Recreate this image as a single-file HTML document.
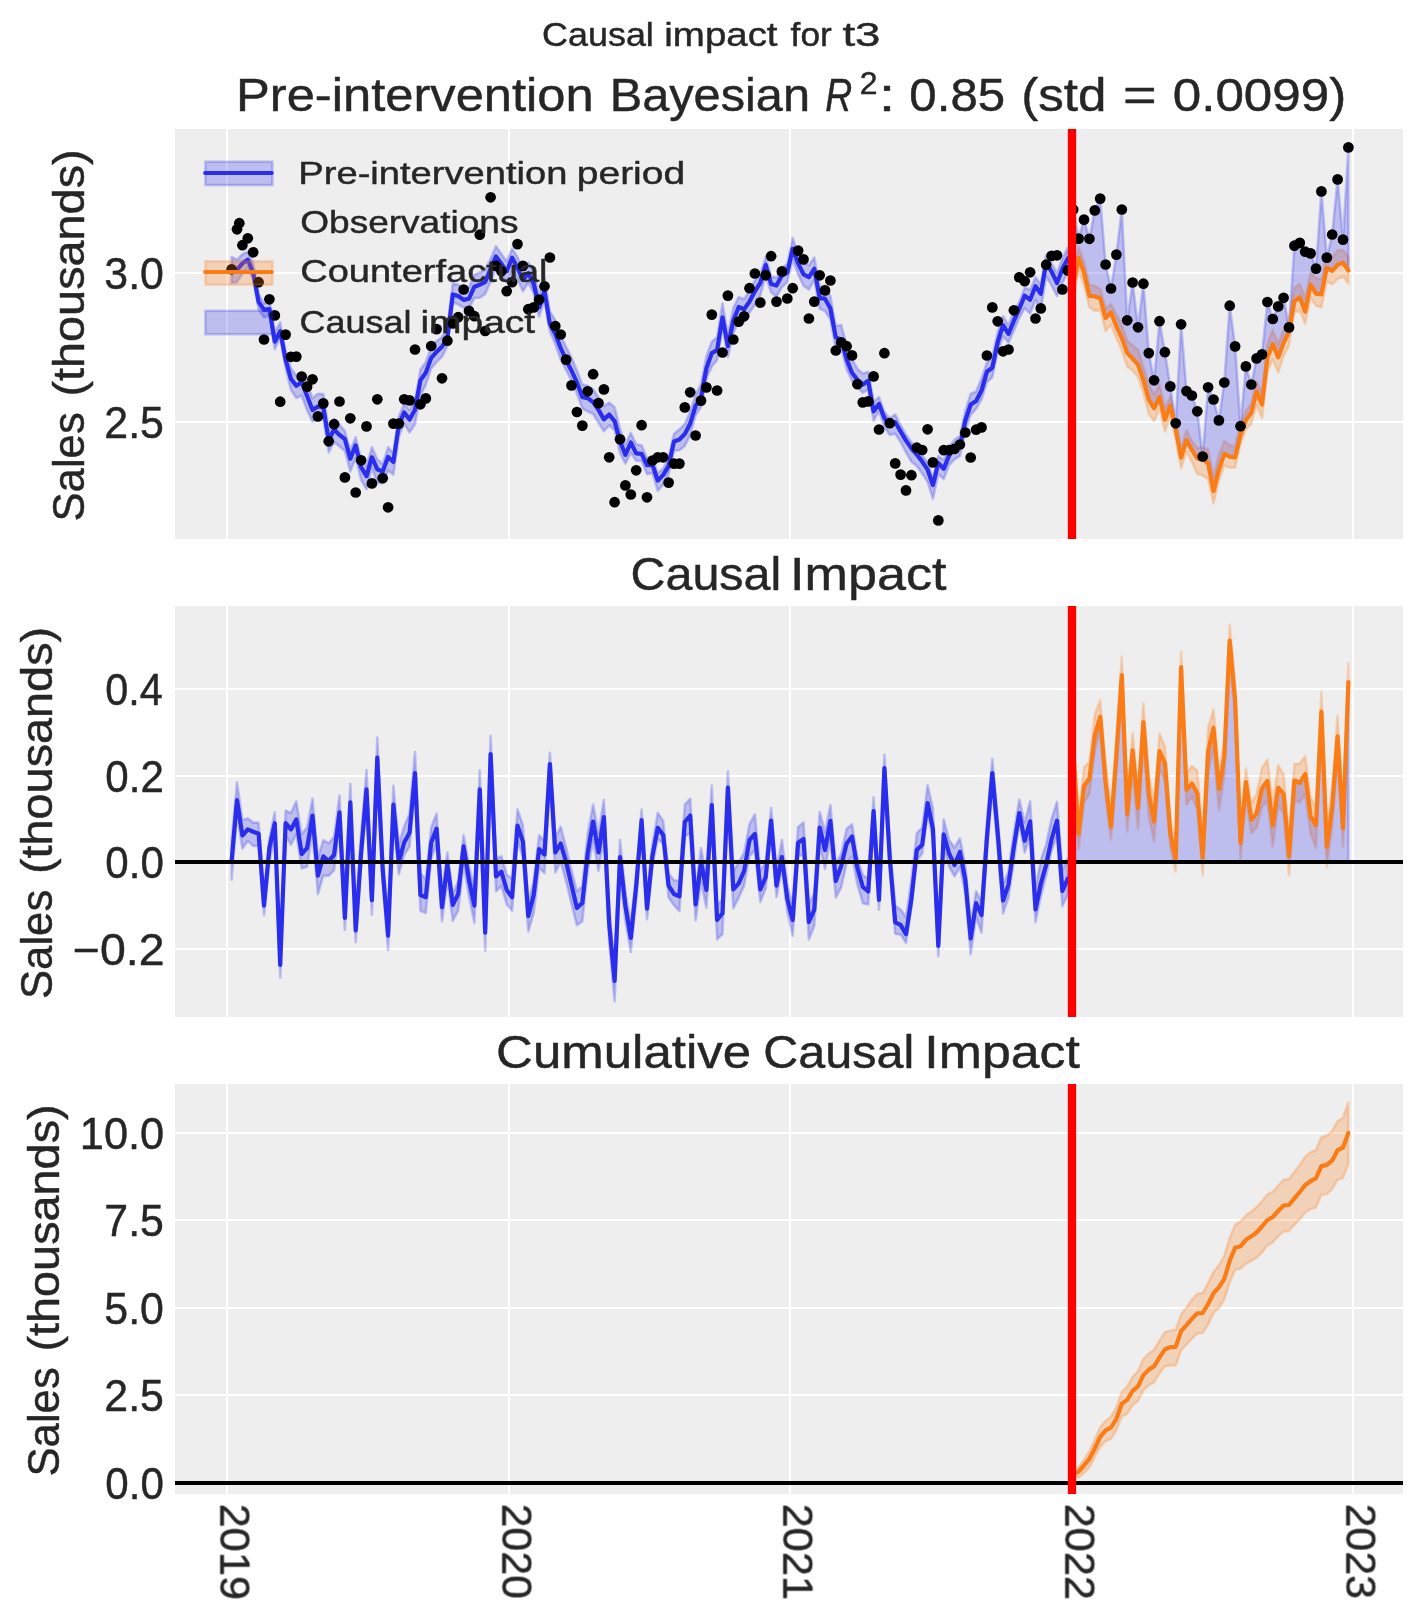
<!DOCTYPE html>
<html><head><meta charset="utf-8"><title>Causal impact for t3</title>
<style>html,body{margin:0;padding:0;background:#fff}svg{display:block}</style></head>
<body>
<svg width="1423" height="1623" viewBox="0 0 1423 1623" font-family="Liberation Sans, sans-serif" fill="#262626" style="will-change:transform">
<rect width="1423" height="1623" fill="#fff"/>
<defs><filter id="gs" x="-5%" y="-5%" width="110%" height="110%"><feOffset dx="0" dy="0"/></filter>
<clipPath id="c1"><rect x="175" y="129" width="1228" height="410"/></clipPath>
<clipPath id="c2"><rect x="175" y="606" width="1228" height="411"/></clipPath>
<clipPath id="c3"><rect x="175" y="1084" width="1228" height="410"/></clipPath>
</defs>
<rect x="175" y="129" width="1228" height="410" fill="#eeeeee"/>
<g stroke="#fff" stroke-width="2.1" clip-path="url(#c1)">
<line x1="227" y1="129" x2="227" y2="539"/>
<line x1="509" y1="129" x2="509" y2="539"/>
<line x1="790" y1="129" x2="790" y2="539"/>
<line x1="1072" y1="129" x2="1072" y2="539"/>
<line x1="1353" y1="129" x2="1353" y2="539"/>
<line x1="175" y1="273" x2="1403" y2="273"/>
<line x1="175" y1="422" x2="1403" y2="422"/>
</g>
<g clip-path="url(#c1)">
<polygon points="231.6,257.0 237.0,259.7 242.4,254.3 247.8,251.8 253.2,263.3 258.6,293.5 264.0,303.5 269.4,299.2 274.8,332.3 280.2,322.4 285.6,351.4 290.9,368.1 296.3,375.4 301.7,372.3 307.1,383.2 312.5,398.2 317.9,393.7 323.3,394.1 328.7,429.9 334.1,419.0 339.5,424.7 344.9,431.1 350.3,450.2 355.7,437.3 361.1,458.6 366.5,466.1 371.9,447.2 377.3,459.3 382.7,463.9 388.1,447.1 393.4,453.4 398.8,416.5 404.2,403.9 409.6,409.9 415.0,400.7 420.4,369.4 425.8,361.9 431.2,346.9 436.6,341.1 442.0,337.0 447.4,327.3 452.8,283.5 458.2,284.8 463.6,287.4 469.0,287.4 474.4,274.8 479.8,272.4 485.2,269.7 490.6,258.7 496.0,246.2 501.4,254.0 506.7,261.5 512.1,248.5 517.5,257.0 522.9,269.7 528.3,262.7 533.7,271.4 539.1,294.4 544.5,278.2 549.9,311.3 555.3,320.3 560.7,335.5 566.1,346.9 571.5,357.5 576.9,370.4 582.3,384.4 587.7,385.8 593.1,389.3 598.5,397.4 603.9,406.0 609.2,402.5 614.6,407.2 620.0,428.5 625.4,444.4 630.8,432.9 636.2,444.2 641.6,445.3 647.0,457.9 652.4,458.7 657.8,473.0 663.2,468.6 668.6,457.9 674.0,433.7 679.4,429.4 684.8,424.0 690.2,411.6 695.6,394.9 701.0,384.2 706.4,356.3 711.8,341.8 717.1,337.0 722.5,303.2 727.9,333.9 733.3,307.9 738.7,297.0 744.1,299.2 749.5,290.4 754.9,280.3 760.3,274.4 765.7,257.2 771.1,276.2 776.5,277.8 781.9,267.9 787.3,264.0 792.7,237.9 798.1,254.5 803.5,263.3 808.9,265.3 814.3,257.6 819.7,286.7 825.0,285.7 830.4,296.3 835.8,326.1 841.2,325.0 846.6,345.4 852.0,359.2 857.4,368.7 862.8,373.4 868.2,371.8 873.6,401.8 879.0,397.1 884.4,411.9 889.8,418.4 895.2,414.3 900.6,425.0 906.0,434.6 911.4,442.3 916.8,447.1 922.2,455.6 927.6,462.3 932.9,478.2 938.3,456.1 943.7,459.7 949.1,446.8 954.5,439.8 959.9,436.1 965.3,410.9 970.7,393.7 976.1,391.5 981.5,378.5 986.9,362.5 992.3,356.7 997.7,331.9 1003.1,316.4 1008.5,324.9 1013.9,311.1 1019.3,302.0 1024.7,287.6 1030.1,289.8 1035.5,277.3 1040.8,284.6 1046.2,255.0 1051.6,263.7 1057.0,272.7 1062.4,258.5 1067.8,247.6 1067.8,272.2 1062.4,283.2 1057.0,296.0 1051.6,285.6 1046.2,276.4 1040.8,309.8 1035.5,299.9 1030.1,313.6 1024.7,308.2 1019.3,318.0 1013.9,330.8 1008.5,342.8 1003.1,336.2 997.7,351.7 992.3,377.3 986.9,382.3 981.5,399.5 976.1,408.9 970.7,414.8 965.3,430.6 959.9,455.9 954.5,459.4 949.1,465.0 943.7,479.1 938.3,474.1 932.9,498.8 927.6,481.9 922.2,473.5 916.8,466.0 911.4,461.7 906.0,452.4 900.6,442.0 895.2,433.7 889.8,435.0 884.4,427.0 879.0,411.2 873.6,420.6 868.2,389.6 862.8,392.8 857.4,387.0 852.0,381.0 846.6,369.3 841.2,348.0 835.8,349.0 830.4,319.5 825.0,311.0 819.7,308.9 814.3,280.1 808.9,289.6 803.5,285.7 798.1,274.2 792.7,259.7 787.3,282.1 781.9,287.2 776.5,296.4 771.1,292.5 765.7,275.6 760.3,295.6 754.9,304.8 749.5,312.5 744.1,322.1 738.7,321.2 733.3,333.1 727.9,357.2 722.5,327.1 717.1,360.2 711.8,366.4 706.4,378.7 701.0,407.0 695.6,415.4 690.2,435.0 684.8,445.9 679.4,450.2 674.0,450.7 668.6,474.3 663.2,484.6 657.8,490.8 652.4,473.3 647.0,474.1 641.6,461.0 636.2,460.7 630.8,452.7 625.4,463.7 620.0,452.9 614.6,430.4 609.2,425.3 603.9,431.2 598.5,422.7 593.1,413.9 587.7,411.5 582.3,408.6 576.9,393.6 571.5,380.5 566.1,370.2 560.7,359.5 555.3,344.3 549.9,331.8 544.5,300.1 539.1,316.7 533.7,293.2 528.3,282.7 522.9,291.2 517.5,278.9 512.1,270.3 506.7,282.0 501.4,274.6 496.0,268.1 490.6,281.4 485.2,293.9 479.8,297.7 474.4,298.0 469.0,308.5 463.6,307.6 458.2,304.6 452.8,302.2 447.4,346.1 442.0,356.8 436.6,362.1 431.2,368.4 425.8,384.9 420.4,395.4 415.0,424.2 409.6,432.6 404.2,423.6 398.8,437.0 393.4,474.8 388.1,470.3 382.7,483.1 377.3,483.1 371.9,467.8 366.5,489.3 361.1,479.9 355.7,457.8 350.3,471.5 344.9,451.1 339.5,446.5 334.1,442.0 328.7,452.3 323.3,418.4 317.9,418.6 312.5,421.7 307.1,410.3 301.7,395.7 296.3,398.0 290.9,389.9 285.6,368.1 280.2,337.8 274.8,349.2 269.4,315.6 264.0,317.4 258.6,309.4 253.2,279.3 247.8,267.4 242.4,274.0 237.0,282.1 231.6,283.0" fill="#2a2eec" fill-opacity=".25" stroke="#2a2eec" stroke-opacity=".25" stroke-width="2.6" stroke-linejoin="round" />
<polygon points="1073.2,274.1 1078.6,247.6 1084.0,261.4 1089.4,285.0 1094.8,285.9 1100.2,288.8 1105.6,308.6 1111.0,304.0 1116.4,314.7 1121.8,325.0 1127.2,340.8 1132.6,345.2 1138.0,349.7 1143.4,367.0 1148.8,384.1 1154.1,394.7 1159.5,384.3 1164.9,407.7 1170.3,396.5 1175.7,420.3 1181.1,449.6 1186.5,430.2 1191.9,440.9 1197.3,447.9 1202.7,447.5 1208.1,449.2 1213.5,476.6 1218.9,454.9 1224.3,440.9 1229.7,445.0 1235.1,446.3 1240.5,423.4 1245.9,410.5 1251.3,403.5 1256.6,381.4 1262.0,391.9 1267.4,343.9 1272.8,329.8 1278.2,344.1 1283.6,329.7 1289.0,318.7 1294.4,287.5 1299.8,284.0 1305.2,297.9 1310.6,272.4 1316.0,278.0 1321.4,279.3 1326.8,254.2 1332.2,257.6 1337.6,250.3 1343.0,250.0 1348.4,256.3 1348.4,283.6 1343.0,276.4 1337.6,279.0 1332.2,284.2 1326.8,281.5 1321.4,307.6 1316.0,305.7 1310.6,297.7 1305.2,323.8 1299.8,310.5 1294.4,312.4 1289.0,345.6 1283.6,356.0 1278.2,372.4 1272.8,359.6 1267.4,372.1 1262.0,418.3 1256.6,404.7 1251.3,424.1 1245.9,429.5 1240.5,444.2 1235.1,467.7 1229.7,467.8 1224.3,465.4 1218.9,480.9 1213.5,503.8 1208.1,479.1 1202.7,475.4 1197.3,474.0 1191.9,461.8 1186.5,451.6 1181.1,468.3 1175.7,439.1 1170.3,416.0 1164.9,431.5 1159.5,408.8 1154.1,421.0 1148.8,413.8 1143.4,392.9 1138.0,377.3 1132.6,370.4 1127.2,366.6 1121.8,350.2 1116.4,338.0 1111.0,324.7 1105.6,331.0 1100.2,309.4 1094.8,310.8 1089.4,307.3 1084.0,285.2 1078.6,270.4 1073.2,299.6" fill="#fa7c17" fill-opacity=".25" stroke="#fa7c17" stroke-opacity=".25" stroke-width="2.6" stroke-linejoin="round" />
<polygon points="1073.2,286.1 1078.6,257.9 1084.0,272.6 1089.4,295.8 1094.8,296.4 1100.2,298.2 1105.6,317.9 1111.0,312.6 1116.4,326.3 1121.8,337.8 1127.2,352.8 1132.6,358.6 1138.0,364.5 1143.4,380.3 1148.8,399.5 1154.1,408.4 1159.5,397.0 1164.9,419.7 1170.3,405.8 1175.7,428.8 1181.1,457.7 1186.5,440.1 1191.9,449.9 1197.3,458.5 1202.7,459.6 1208.1,463.1 1213.5,491.2 1218.9,469.6 1224.3,453.9 1229.7,456.7 1235.1,457.4 1240.5,435.1 1245.9,420.0 1251.3,412.7 1256.6,391.4 1262.0,404.6 1267.4,357.5 1272.8,344.1 1278.2,357.2 1283.6,342.7 1289.0,331.9 1294.4,301.2 1299.8,297.3 1305.2,311.7 1310.6,284.6 1316.0,293.6 1321.4,294.3 1326.8,267.8 1332.2,270.8 1337.6,264.9 1343.0,262.6 1348.4,270.5 1348.4,147.4 1343.0,239.6 1337.6,179.4 1332.2,234.5 1326.8,257.6 1321.4,191.4 1316.0,268.6 1310.6,253.4 1305.2,251.7 1299.8,242.9 1294.4,245.7 1289.0,327.4 1283.6,297.8 1278.2,306.4 1272.8,319.0 1267.4,302.0 1262.0,354.4 1256.6,358.4 1251.3,384.5 1245.9,366.4 1240.5,426.2 1235.1,346.4 1229.7,305.7 1224.3,382.5 1218.9,420.4 1213.5,399.5 1208.1,387.3 1202.7,456.5 1197.3,411.3 1191.9,395.5 1186.5,391.1 1181.1,324.3 1175.7,423.3 1170.3,386.4 1164.9,352.2 1159.5,321.2 1154.1,380.3 1148.8,353.1 1143.4,283.7 1138.0,327.3 1132.6,282.5 1127.2,320.3 1121.8,209.5 1116.4,254.6 1111.0,288.5 1105.6,264.5 1100.2,198.6 1094.8,210.4 1089.4,238.8 1084.0,219.6 1078.6,238.6 1073.2,209.5" fill="#2a2eec" fill-opacity=".25" stroke="#2a2eec" stroke-opacity=".25" stroke-width="2.6" stroke-linejoin="round" />
<polyline points="231.6,269.8 237.0,269.9 242.4,263.3 247.8,259.8 253.2,273.0 258.6,301.8 264.0,309.8 269.4,309.0 274.8,341.7 280.2,331.1 285.6,359.7 290.9,378.7 296.3,385.7 301.7,382.1 307.1,396.1 312.5,410.1 317.9,406.5 323.3,407.4 328.7,440.0 334.1,429.5 339.5,434.9 344.9,439.2 350.3,458.8 355.7,445.4 361.1,467.2 366.5,476.1 371.9,457.2 377.3,469.3 382.7,471.6 388.1,457.0 393.4,461.9 398.8,424.9 404.2,412.5 409.6,419.5 415.0,409.7 420.4,380.4 425.8,372.8 431.2,357.9 436.6,351.8 442.0,346.7 447.4,338.1 452.8,294.4 458.2,296.0 463.6,299.9 469.0,298.7 474.4,286.7 479.8,284.7 485.2,282.0 490.6,268.9 496.0,256.4 501.4,263.8 506.7,271.4 512.1,257.7 517.5,267.8 522.9,279.9 528.3,273.3 533.7,283.8 539.1,307.3 544.5,291.0 549.9,324.1 555.3,334.0 560.7,348.0 566.1,360.2 571.5,370.5 576.9,382.3 582.3,397.1 587.7,398.1 593.1,402.1 598.5,409.9 603.9,419.4 609.2,414.6 614.6,421.1 620.0,441.2 625.4,454.8 630.8,442.5 636.2,453.4 641.6,453.8 647.0,465.2 652.4,464.8 657.8,480.6 663.2,474.9 668.6,466.1 674.0,441.4 679.4,439.5 684.8,434.1 690.2,423.5 695.6,405.8 701.0,397.6 706.4,368.5 711.8,353.1 717.1,350.2 722.5,317.4 727.9,346.1 733.3,320.8 738.7,307.0 744.1,309.3 749.5,301.6 754.9,291.3 760.3,282.8 765.7,265.0 771.1,284.0 776.5,285.6 781.9,275.6 787.3,272.6 792.7,248.7 798.1,263.4 803.5,274.3 808.9,277.2 814.3,268.8 819.7,298.2 825.0,298.7 830.4,308.6 835.8,337.4 841.2,339.6 846.6,359.0 852.0,372.8 857.4,379.8 862.8,384.5 868.2,380.8 873.6,411.3 879.0,403.9 884.4,417.9 889.8,425.1 895.2,422.3 900.6,431.5 906.0,440.6 911.4,448.3 916.8,454.5 922.2,461.6 927.6,469.7 932.9,485.1 938.3,463.1 943.7,468.8 949.1,455.6 954.5,447.6 959.9,446.6 965.3,420.5 970.7,404.6 976.1,400.9 981.5,390.6 986.9,371.8 992.3,367.8 997.7,342.2 1003.1,325.2 1008.5,334.0 1013.9,320.7 1019.3,308.7 1024.7,295.7 1030.1,299.8 1035.5,286.2 1040.8,293.7 1046.2,262.6 1051.6,271.7 1057.0,283.0 1062.4,269.0 1067.8,258.4" fill="none" stroke="#2a2eec" stroke-width="4.2" stroke-linejoin="round" stroke-linecap="round"/>
<g fill="#000">
<circle cx="231.6" cy="269.3" r="5.35"/>
<circle cx="237.0" cy="229.3" r="5.35"/>
<circle cx="242.4" cy="245.2" r="5.35"/>
<circle cx="247.8" cy="238.3" r="5.35"/>
<circle cx="253.2" cy="252.3" r="5.35"/>
<circle cx="258.6" cy="282.2" r="5.35"/>
<circle cx="264.0" cy="339.5" r="5.35"/>
<circle cx="269.4" cy="299.3" r="5.35"/>
<circle cx="274.8" cy="315.4" r="5.35"/>
<circle cx="280.2" cy="401.7" r="5.35"/>
<circle cx="285.6" cy="334.6" r="5.35"/>
<circle cx="290.9" cy="356.8" r="5.35"/>
<circle cx="296.3" cy="356.6" r="5.35"/>
<circle cx="301.7" cy="376.5" r="5.35"/>
<circle cx="307.1" cy="386.7" r="5.35"/>
<circle cx="312.5" cy="379.3" r="5.35"/>
<circle cx="317.9" cy="416.4" r="5.35"/>
<circle cx="323.3" cy="403.4" r="5.35"/>
<circle cx="328.7" cy="441.3" r="5.35"/>
<circle cx="334.1" cy="424.2" r="5.35"/>
<circle cx="339.5" cy="401.5" r="5.35"/>
<circle cx="344.9" cy="477.4" r="5.35"/>
<circle cx="350.3" cy="418.3" r="5.35"/>
<circle cx="355.7" cy="492.5" r="5.35"/>
<circle cx="361.1" cy="460.3" r="5.35"/>
<circle cx="366.5" cy="426.4" r="5.35"/>
<circle cx="371.9" cy="483.4" r="5.35"/>
<circle cx="377.3" cy="399.3" r="5.35"/>
<circle cx="382.7" cy="478.2" r="5.35"/>
<circle cx="388.1" cy="507.3" r="5.35"/>
<circle cx="393.4" cy="423.6" r="5.35"/>
<circle cx="398.8" cy="423.6" r="5.35"/>
<circle cx="404.2" cy="399.3" r="5.35"/>
<circle cx="409.6" cy="400.4" r="5.35"/>
<circle cx="415.0" cy="349.5" r="5.35"/>
<circle cx="420.4" cy="404.3" r="5.35"/>
<circle cx="425.8" cy="398.4" r="5.35"/>
<circle cx="431.2" cy="346.0" r="5.35"/>
<circle cx="436.6" cy="329.1" r="5.35"/>
<circle cx="442.0" cy="378.3" r="5.35"/>
<circle cx="447.4" cy="340.7" r="5.35"/>
<circle cx="452.8" cy="323.5" r="5.35"/>
<circle cx="458.2" cy="317.2" r="5.35"/>
<circle cx="463.6" cy="289.5" r="5.35"/>
<circle cx="469.0" cy="310.9" r="5.35"/>
<circle cx="474.4" cy="316.2" r="5.35"/>
<circle cx="479.8" cy="234.7" r="5.35"/>
<circle cx="485.2" cy="331.0" r="5.35"/>
<circle cx="490.6" cy="197.3" r="5.35"/>
<circle cx="496.0" cy="265.9" r="5.35"/>
<circle cx="501.4" cy="271.2" r="5.35"/>
<circle cx="506.7" cy="291.2" r="5.35"/>
<circle cx="512.1" cy="282.1" r="5.35"/>
<circle cx="517.5" cy="244.1" r="5.35"/>
<circle cx="522.9" cy="265.9" r="5.35"/>
<circle cx="528.3" cy="309.2" r="5.35"/>
<circle cx="533.7" cy="307.4" r="5.35"/>
<circle cx="539.1" cy="299.6" r="5.35"/>
<circle cx="544.5" cy="286.3" r="5.35"/>
<circle cx="549.9" cy="257.5" r="5.35"/>
<circle cx="555.3" cy="326.0" r="5.35"/>
<circle cx="560.7" cy="334.5" r="5.35"/>
<circle cx="566.1" cy="359.6" r="5.35"/>
<circle cx="571.5" cy="385.4" r="5.35"/>
<circle cx="576.9" cy="412.0" r="5.35"/>
<circle cx="582.3" cy="425.6" r="5.35"/>
<circle cx="587.7" cy="391.3" r="5.35"/>
<circle cx="593.1" cy="374.2" r="5.35"/>
<circle cx="598.5" cy="403.1" r="5.35"/>
<circle cx="603.9" cy="389.4" r="5.35"/>
<circle cx="609.2" cy="457.3" r="5.35"/>
<circle cx="614.6" cy="502.2" r="5.35"/>
<circle cx="620.0" cy="439.3" r="5.35"/>
<circle cx="625.4" cy="485.4" r="5.35"/>
<circle cx="630.8" cy="494.5" r="5.35"/>
<circle cx="636.2" cy="470.3" r="5.35"/>
<circle cx="641.6" cy="425.2" r="5.35"/>
<circle cx="647.0" cy="497.3" r="5.35"/>
<circle cx="652.4" cy="460.5" r="5.35"/>
<circle cx="657.8" cy="457.3" r="5.35"/>
<circle cx="663.2" cy="457.3" r="5.35"/>
<circle cx="668.6" cy="482.6" r="5.35"/>
<circle cx="674.0" cy="463.6" r="5.35"/>
<circle cx="679.4" cy="463.6" r="5.35"/>
<circle cx="684.8" cy="407.4" r="5.35"/>
<circle cx="690.2" cy="392.3" r="5.35"/>
<circle cx="695.6" cy="435.5" r="5.35"/>
<circle cx="701.0" cy="400.6" r="5.35"/>
<circle cx="706.4" cy="387.4" r="5.35"/>
<circle cx="711.8" cy="314.6" r="5.35"/>
<circle cx="717.1" cy="390.5" r="5.35"/>
<circle cx="722.5" cy="352.5" r="5.35"/>
<circle cx="727.9" cy="295.6" r="5.35"/>
<circle cx="733.3" cy="339.5" r="5.35"/>
<circle cx="738.7" cy="321.6" r="5.35"/>
<circle cx="744.1" cy="316.3" r="5.35"/>
<circle cx="749.5" cy="288.2" r="5.35"/>
<circle cx="754.9" cy="273.5" r="5.35"/>
<circle cx="760.3" cy="302.6" r="5.35"/>
<circle cx="765.7" cy="275.3" r="5.35"/>
<circle cx="771.1" cy="256.2" r="5.35"/>
<circle cx="776.5" cy="301.6" r="5.35"/>
<circle cx="781.9" cy="271.4" r="5.35"/>
<circle cx="787.3" cy="298.5" r="5.35"/>
<circle cx="792.7" cy="288.2" r="5.35"/>
<circle cx="798.1" cy="250.6" r="5.35"/>
<circle cx="803.5" cy="259.4" r="5.35"/>
<circle cx="808.9" cy="318.5" r="5.35"/>
<circle cx="814.3" cy="301.6" r="5.35"/>
<circle cx="819.7" cy="275.3" r="5.35"/>
<circle cx="825.0" cy="290.4" r="5.35"/>
<circle cx="830.4" cy="280.5" r="5.35"/>
<circle cx="835.8" cy="350.5" r="5.35"/>
<circle cx="841.2" cy="342.4" r="5.35"/>
<circle cx="846.6" cy="346.2" r="5.35"/>
<circle cx="852.0" cy="355.4" r="5.35"/>
<circle cx="857.4" cy="384.2" r="5.35"/>
<circle cx="862.8" cy="402.4" r="5.35"/>
<circle cx="868.2" cy="401.4" r="5.35"/>
<circle cx="873.6" cy="376.4" r="5.35"/>
<circle cx="879.0" cy="429.5" r="5.35"/>
<circle cx="884.4" cy="353.2" r="5.35"/>
<circle cx="889.8" cy="423.2" r="5.35"/>
<circle cx="895.2" cy="463.4" r="5.35"/>
<circle cx="900.6" cy="474.6" r="5.35"/>
<circle cx="906.0" cy="490.4" r="5.35"/>
<circle cx="911.4" cy="475.2" r="5.35"/>
<circle cx="916.8" cy="447.7" r="5.35"/>
<circle cx="922.2" cy="450.0" r="5.35"/>
<circle cx="927.6" cy="429.3" r="5.35"/>
<circle cx="932.9" cy="462.4" r="5.35"/>
<circle cx="938.3" cy="520.4" r="5.35"/>
<circle cx="943.7" cy="450.2" r="5.35"/>
<circle cx="949.1" cy="450.2" r="5.35"/>
<circle cx="954.5" cy="448.9" r="5.35"/>
<circle cx="959.9" cy="444.5" r="5.35"/>
<circle cx="965.3" cy="432.5" r="5.35"/>
<circle cx="970.7" cy="457.5" r="5.35"/>
<circle cx="976.1" cy="429.7" r="5.35"/>
<circle cx="981.5" cy="427.4" r="5.35"/>
<circle cx="986.9" cy="355.5" r="5.35"/>
<circle cx="992.3" cy="307.4" r="5.35"/>
<circle cx="997.7" cy="321.3" r="5.35"/>
<circle cx="1003.1" cy="351.3" r="5.35"/>
<circle cx="1008.5" cy="349.5" r="5.35"/>
<circle cx="1013.9" cy="310.3" r="5.35"/>
<circle cx="1019.3" cy="277.4" r="5.35"/>
<circle cx="1024.7" cy="281.2" r="5.35"/>
<circle cx="1030.1" cy="272.3" r="5.35"/>
<circle cx="1035.5" cy="318.5" r="5.35"/>
<circle cx="1040.8" cy="308.4" r="5.35"/>
<circle cx="1046.2" cy="264.7" r="5.35"/>
<circle cx="1051.6" cy="255.9" r="5.35"/>
<circle cx="1057.0" cy="255.3" r="5.35"/>
<circle cx="1062.4" cy="289.4" r="5.35"/>
<circle cx="1067.8" cy="270.4" r="5.35"/>
</g>
<polyline points="1073.2,286.1 1078.6,257.9 1084.0,272.6 1089.4,295.8 1094.8,296.4 1100.2,298.2 1105.6,317.9 1111.0,312.6 1116.4,326.3 1121.8,337.8 1127.2,352.8 1132.6,358.6 1138.0,364.5 1143.4,380.3 1148.8,399.5 1154.1,408.4 1159.5,397.0 1164.9,419.7 1170.3,405.8 1175.7,428.8 1181.1,457.7 1186.5,440.1 1191.9,449.9 1197.3,458.5 1202.7,459.6 1208.1,463.1 1213.5,491.2 1218.9,469.6 1224.3,453.9 1229.7,456.7 1235.1,457.4 1240.5,435.1 1245.9,420.0 1251.3,412.7 1256.6,391.4 1262.0,404.6 1267.4,357.5 1272.8,344.1 1278.2,357.2 1283.6,342.7 1289.0,331.9 1294.4,301.2 1299.8,297.3 1305.2,311.7 1310.6,284.6 1316.0,293.6 1321.4,294.3 1326.8,267.8 1332.2,270.8 1337.6,264.9 1343.0,262.6 1348.4,270.5" fill="none" stroke="#fa7c17" stroke-width="4.2" stroke-linejoin="round" stroke-linecap="round"/>
<g fill="#000">
<circle cx="1073.2" cy="209.5" r="5.35"/>
<circle cx="1078.6" cy="238.6" r="5.35"/>
<circle cx="1084.0" cy="219.6" r="5.35"/>
<circle cx="1089.4" cy="238.8" r="5.35"/>
<circle cx="1094.8" cy="210.4" r="5.35"/>
<circle cx="1100.2" cy="198.6" r="5.35"/>
<circle cx="1105.6" cy="264.5" r="5.35"/>
<circle cx="1111.0" cy="288.5" r="5.35"/>
<circle cx="1116.4" cy="254.6" r="5.35"/>
<circle cx="1121.8" cy="209.5" r="5.35"/>
<circle cx="1127.2" cy="320.3" r="5.35"/>
<circle cx="1132.6" cy="282.5" r="5.35"/>
<circle cx="1138.0" cy="327.3" r="5.35"/>
<circle cx="1143.4" cy="283.7" r="5.35"/>
<circle cx="1148.8" cy="353.1" r="5.35"/>
<circle cx="1154.1" cy="380.3" r="5.35"/>
<circle cx="1159.5" cy="321.2" r="5.35"/>
<circle cx="1164.9" cy="352.2" r="5.35"/>
<circle cx="1170.3" cy="386.4" r="5.35"/>
<circle cx="1175.7" cy="423.3" r="5.35"/>
<circle cx="1181.1" cy="324.3" r="5.35"/>
<circle cx="1186.5" cy="391.1" r="5.35"/>
<circle cx="1191.9" cy="395.5" r="5.35"/>
<circle cx="1197.3" cy="411.3" r="5.35"/>
<circle cx="1202.7" cy="456.5" r="5.35"/>
<circle cx="1208.1" cy="387.3" r="5.35"/>
<circle cx="1213.5" cy="399.5" r="5.35"/>
<circle cx="1218.9" cy="420.4" r="5.35"/>
<circle cx="1224.3" cy="382.5" r="5.35"/>
<circle cx="1229.7" cy="305.7" r="5.35"/>
<circle cx="1235.1" cy="346.4" r="5.35"/>
<circle cx="1240.5" cy="426.2" r="5.35"/>
<circle cx="1245.9" cy="366.4" r="5.35"/>
<circle cx="1251.3" cy="384.5" r="5.35"/>
<circle cx="1256.6" cy="358.4" r="5.35"/>
<circle cx="1262.0" cy="354.4" r="5.35"/>
<circle cx="1267.4" cy="302.0" r="5.35"/>
<circle cx="1272.8" cy="319.0" r="5.35"/>
<circle cx="1278.2" cy="306.4" r="5.35"/>
<circle cx="1283.6" cy="297.8" r="5.35"/>
<circle cx="1289.0" cy="327.4" r="5.35"/>
<circle cx="1294.4" cy="245.7" r="5.35"/>
<circle cx="1299.8" cy="242.9" r="5.35"/>
<circle cx="1305.2" cy="251.7" r="5.35"/>
<circle cx="1310.6" cy="253.4" r="5.35"/>
<circle cx="1316.0" cy="268.6" r="5.35"/>
<circle cx="1321.4" cy="191.4" r="5.35"/>
<circle cx="1326.8" cy="257.6" r="5.35"/>
<circle cx="1332.2" cy="234.5" r="5.35"/>
<circle cx="1337.6" cy="179.4" r="5.35"/>
<circle cx="1343.0" cy="239.6" r="5.35"/>
<circle cx="1348.4" cy="147.4" r="5.35"/>
</g>
<line x1="1072" y1="129" x2="1072" y2="539" stroke="#ff0000" stroke-width="8.3"/>
</g>
<rect x="175" y="606" width="1228" height="411" fill="#eeeeee"/>
<g stroke="#fff" stroke-width="2.1" clip-path="url(#c2)">
<line x1="227" y1="606" x2="227" y2="1017"/>
<line x1="509" y1="606" x2="509" y2="1017"/>
<line x1="790" y1="606" x2="790" y2="1017"/>
<line x1="1072" y1="606" x2="1072" y2="1017"/>
<line x1="1353" y1="606" x2="1353" y2="1017"/>
<line x1="175" y1="689" x2="1403" y2="689"/>
<line x1="175" y1="776" x2="1403" y2="776"/>
<line x1="175" y1="862" x2="1403" y2="862"/>
<line x1="175" y1="949" x2="1403" y2="949"/>
</g>
<g clip-path="url(#c2)">
<polygon points="231.6,841.7 237.0,782.4 242.4,819.8 247.8,818.4 253.2,822.6 258.6,822.6 264.0,894.6 269.4,838.2 274.8,812.2 280.2,955.2 285.6,810.6 290.9,813.0 296.3,801.4 301.7,834.2 307.1,827.2 312.5,798.6 317.9,857.9 323.3,840.2 328.7,843.2 334.1,836.5 339.5,795.5 344.9,900.7 350.3,783.7 355.7,912.2 361.1,834.5 366.5,770.1 371.9,884.6 377.3,737.6 382.7,853.2 388.1,916.2 393.4,785.8 398.8,844.3 404.2,826.2 409.6,813.4 415.0,752.0 420.4,873.0 425.8,879.5 431.2,827.2 436.6,813.5 442.0,892.5 447.4,852.4 452.8,893.6 458.2,881.5 463.6,835.1 469.0,865.8 474.4,889.1 479.8,770.4 485.2,915.3 490.6,735.8 496.0,859.3 501.4,856.0 506.7,874.5 512.1,878.8 517.5,809.4 522.9,825.1 528.3,902.2 533.7,881.2 539.1,835.2 544.5,841.2 549.9,752.7 555.3,837.5 560.7,826.7 566.1,847.4 571.5,870.3 576.9,891.4 582.3,886.2 587.7,833.5 593.1,804.5 598.5,833.8 603.9,799.8 609.2,908.5 614.6,967.4 620.0,840.0 625.4,893.1 630.8,923.1 636.2,875.5 641.6,809.6 647.0,895.6 652.4,843.6 657.8,812.8 663.2,820.9 668.6,873.6 674.0,880.3 679.4,880.7 684.8,804.7 690.2,798.6 695.6,890.4 701.0,848.3 706.4,875.0 711.8,785.6 717.1,905.4 722.5,899.1 727.9,771.2 733.3,871.5 738.7,862.5 744.1,852.4 749.5,824.2 754.9,814.3 760.3,870.8 765.7,861.7 771.1,808.1 776.5,869.8 781.9,840.0 787.3,885.2 792.7,903.9 798.1,827.0 803.5,822.4 808.9,903.9 814.3,893.2 819.7,811.8 825.0,832.1 830.4,805.1 835.8,864.1 841.2,853.8 846.6,828.7 852.0,824.3 857.4,857.5 862.8,875.0 868.2,878.6 873.6,797.3 879.0,889.2 884.4,754.7 889.8,844.0 895.2,905.6 900.6,909.6 906.0,917.1 911.4,879.3 916.8,833.1 922.2,827.5 927.6,785.3 932.9,808.6 938.3,929.9 943.7,819.3 949.1,839.8 954.5,847.7 959.9,838.4 965.3,864.7 970.7,923.6 976.1,891.3 981.5,901.9 986.9,822.6 992.3,759.0 997.7,819.2 1003.1,884.5 1008.5,871.3 1013.9,831.7 1019.3,799.5 1024.7,822.5 1030.1,801.3 1035.5,889.3 1040.8,860.2 1046.2,844.3 1051.6,818.6 1057.0,801.8 1062.4,870.3 1067.8,858.4 1067.8,894.4 1062.4,906.3 1057.0,835.8 1051.6,850.7 1046.2,875.6 1040.8,896.9 1035.5,922.2 1030.1,836.0 1024.7,852.6 1019.3,822.8 1013.9,860.5 1008.5,897.6 1003.1,913.4 997.7,848.1 992.3,789.1 986.9,851.6 981.5,932.6 976.1,916.7 970.7,954.3 965.3,893.5 959.9,867.3 954.5,876.4 949.1,866.4 943.7,847.6 938.3,956.3 932.9,838.7 927.6,813.9 922.2,853.6 916.8,860.7 911.4,907.8 906.0,943.1 900.6,934.4 895.2,934.0 889.8,868.3 884.4,776.8 879.0,909.8 873.6,824.9 868.2,904.6 862.8,903.2 857.4,884.3 852.0,856.2 846.6,863.5 841.2,887.3 835.8,897.6 830.4,838.9 825.0,869.0 819.7,844.2 814.3,926.1 808.9,939.4 803.5,855.1 798.1,855.8 792.7,935.7 787.3,911.6 781.9,868.2 776.5,897.0 771.1,831.9 765.7,888.6 760.3,901.9 754.9,850.1 749.5,856.3 744.1,885.8 738.7,897.8 733.3,908.3 727.9,805.3 722.5,934.0 717.1,939.3 711.8,821.5 706.4,907.7 701.0,881.7 695.6,920.4 690.2,832.9 684.8,836.7 679.4,911.2 674.0,905.2 668.6,897.6 663.2,844.2 657.8,838.8 652.4,865.0 647.0,919.3 641.6,832.6 636.2,899.5 630.8,952.0 625.4,921.2 620.0,875.6 614.6,1001.3 609.2,941.8 603.9,836.6 598.5,870.7 593.1,840.4 587.7,871.0 582.3,921.5 576.9,925.3 571.5,903.9 566.1,881.4 560.7,861.7 555.3,872.5 549.9,782.6 544.5,873.2 539.1,867.7 533.7,913.2 528.3,931.5 522.9,856.6 517.5,841.4 512.1,910.7 506.7,904.4 501.4,886.1 496.0,891.4 490.6,768.9 485.2,950.6 479.8,807.3 474.4,923.0 469.0,896.5 463.6,864.6 458.2,910.5 452.8,920.8 447.4,879.8 442.0,921.4 436.6,844.1 431.2,858.6 425.8,913.1 420.4,911.0 415.0,786.3 409.6,846.5 404.2,855.1 398.8,874.2 393.4,817.1 388.1,950.2 382.7,881.1 377.3,772.3 371.9,914.8 366.5,804.0 361.1,865.6 355.7,942.1 350.3,814.8 344.9,929.9 339.5,827.3 334.1,870.2 328.7,875.9 323.3,875.6 317.9,894.2 312.5,832.8 307.1,866.8 301.7,868.4 296.3,834.4 290.9,844.8 285.6,835.0 280.2,977.8 274.8,836.8 269.4,862.1 264.0,914.9 258.6,845.9 253.2,846.0 247.8,841.1 242.4,848.6 237.0,815.0 231.6,879.6" fill="#2a2eec" fill-opacity=".25" stroke="#2a2eec" stroke-opacity=".25" stroke-width="2.6" stroke-linejoin="round" />
<polygon points="1073.2,730.3 1078.6,815.5 1084.0,767.7 1089.4,761.8 1094.8,714.4 1100.2,700.4 1105.6,763.0 1111.0,809.4 1116.4,738.0 1121.8,656.8 1127.2,793.9 1132.6,733.1 1138.0,788.9 1143.4,703.5 1148.8,773.1 1154.1,803.2 1159.5,733.8 1164.9,746.0 1170.3,818.5 1175.7,844.0 1181.1,651.5 1186.5,773.2 1191.9,766.1 1197.3,770.7 1202.7,834.4 1208.1,728.1 1213.5,709.4 1218.9,772.6 1224.3,740.6 1229.7,624.5 1235.1,685.0 1240.5,829.6 1245.9,768.2 1251.3,803.1 1256.6,793.9 1262.0,768.3 1267.4,759.7 1272.8,802.9 1278.2,765.2 1283.6,774.7 1289.0,836.0 1294.4,764.1 1299.8,763.6 1305.2,756.4 1310.6,797.3 1316.0,807.6 1321.4,692.0 1326.8,827.0 1332.2,787.4 1337.6,715.7 1343.0,808.2 1348.4,663.1 1348.4,702.9 1343.0,846.7 1337.6,757.6 1332.2,826.2 1326.8,866.9 1321.4,733.4 1316.0,848.1 1310.6,834.1 1305.2,794.3 1299.8,802.3 1294.4,800.4 1289.0,875.3 1283.6,813.0 1278.2,806.5 1272.8,846.5 1267.4,801.0 1262.0,806.8 1256.6,827.9 1251.3,833.1 1245.9,795.9 1240.5,860.0 1235.1,716.2 1229.7,657.9 1224.3,776.4 1218.9,810.5 1213.5,749.1 1208.1,771.8 1202.7,875.2 1197.3,808.8 1191.9,796.6 1186.5,804.5 1181.1,678.8 1175.7,871.4 1170.3,847.0 1164.9,780.7 1159.5,769.5 1154.1,841.5 1148.8,816.4 1143.4,741.4 1138.0,829.3 1132.6,769.8 1127.2,831.6 1121.8,693.7 1116.4,772.0 1111.0,839.6 1105.6,795.6 1100.2,730.4 1094.8,750.7 1089.4,794.3 1084.0,802.4 1078.6,848.8 1073.2,767.4" fill="#fa7c17" fill-opacity=".25" stroke="#fa7c17" stroke-opacity=".25" stroke-width="2.6" stroke-linejoin="round" />
<polygon points="1073.2,750.0 1078.6,833.8 1084.0,786.0 1089.4,778.5 1094.8,735.5 1100.2,716.7 1105.6,782.0 1111.0,827.0 1116.4,755.0 1121.8,675.0 1127.2,814.2 1132.6,750.3 1138.0,807.7 1143.4,722.0 1148.8,794.0 1154.1,821.5 1159.5,751.0 1164.9,763.2 1170.3,833.5 1175.7,859.0 1181.1,667.0 1186.5,790.0 1191.9,783.5 1197.3,793.3 1202.7,857.5 1208.1,751.5 1213.5,727.7 1218.9,789.0 1224.3,757.5 1229.7,640.7 1235.1,700.0 1240.5,843.0 1245.9,782.0 1251.3,819.7 1256.6,813.4 1262.0,788.3 1267.4,781.0 1272.8,825.5 1278.2,787.5 1283.6,794.0 1289.0,856.0 1294.4,780.5 1299.8,782.8 1305.2,774.0 1310.6,816.4 1316.0,825.3 1321.4,711.5 1326.8,847.0 1332.2,807.0 1337.6,736.3 1343.0,828.4 1348.4,682.1 1348.4,862.0 1343.0,862.0 1337.6,862.0 1332.2,862.0 1326.8,862.0 1321.4,862.0 1316.0,862.0 1310.6,862.0 1305.2,862.0 1299.8,862.0 1294.4,862.0 1289.0,862.0 1283.6,862.0 1278.2,862.0 1272.8,862.0 1267.4,862.0 1262.0,862.0 1256.6,862.0 1251.3,862.0 1245.9,862.0 1240.5,862.0 1235.1,862.0 1229.7,862.0 1224.3,862.0 1218.9,862.0 1213.5,862.0 1208.1,862.0 1202.7,862.0 1197.3,862.0 1191.9,862.0 1186.5,862.0 1181.1,862.0 1175.7,862.0 1170.3,862.0 1164.9,862.0 1159.5,862.0 1154.1,862.0 1148.8,862.0 1143.4,862.0 1138.0,862.0 1132.6,862.0 1127.2,862.0 1121.8,862.0 1116.4,862.0 1111.0,862.0 1105.6,862.0 1100.2,862.0 1094.8,862.0 1089.4,862.0 1084.0,862.0 1078.6,862.0 1073.2,862.0" fill="#2a2eec" fill-opacity=".25" stroke="#2a2eec" stroke-opacity=".25" stroke-width="2.6" stroke-linejoin="round" />
<polyline points="231.6,861.0 237.0,800.1 242.4,835.5 247.8,829.4 253.2,831.7 258.6,833.7 264.0,905.6 269.4,847.9 274.8,823.2 280.2,965.0 285.6,823.0 290.9,829.4 296.3,819.4 301.7,854.0 307.1,847.9 312.5,815.5 317.9,875.6 323.3,856.3 328.7,861.0 334.1,854.8 339.5,812.4 344.9,918.0 350.3,802.4 355.7,930.3 361.1,853.0 366.5,789.3 371.9,900.2 377.3,757.7 382.7,870.0 388.1,935.7 393.4,804.7 398.8,862.0 404.2,842.5 409.6,832.4 415.0,773.1 420.4,895.0 425.8,897.2 431.2,842.5 436.6,828.6 442.0,907.2 447.4,864.0 452.8,904.9 458.2,894.0 463.6,846.3 469.0,880.0 474.4,905.6 479.8,789.3 485.2,932.6 490.6,754.0 496.0,876.4 501.4,871.7 506.7,890.0 512.1,897.2 517.5,825.5 522.9,841.7 528.3,916.0 533.7,895.0 539.1,849.0 544.5,854.5 549.9,764.0 555.3,852.5 560.7,843.5 566.1,862.0 571.5,885.0 576.9,908.0 582.3,903.0 587.7,853.0 593.1,821.6 598.5,852.5 603.9,817.0 609.2,924.0 614.6,981.0 620.0,857.0 625.4,906.0 630.8,938.0 636.2,886.0 641.6,820.1 647.0,908.7 652.4,856.0 657.8,827.8 663.2,835.0 668.6,885.6 674.0,894.0 679.4,896.4 684.8,822.0 690.2,815.5 695.6,904.5 701.0,862.0 706.4,890.0 711.8,805.0 717.1,920.0 722.5,913.3 727.9,787.5 733.3,889.4 738.7,883.3 744.1,871.0 749.5,840.0 754.9,834.0 760.3,889.5 765.7,877.1 771.1,820.5 776.5,885.6 781.9,857.0 787.3,899.0 792.7,920.0 798.1,842.7 803.5,839.0 808.9,922.0 814.3,909.7 819.7,827.5 825.0,850.0 830.4,820.9 835.8,881.0 841.2,866.0 846.6,843.7 852.0,836.4 857.4,868.0 862.8,887.0 868.2,891.5 873.6,811.0 879.0,899.8 884.4,768.0 889.8,858.5 895.2,922.3 900.6,924.9 906.0,934.3 911.4,899.0 916.8,850.0 922.2,844.8 927.6,803.0 932.9,828.7 938.3,946.0 943.7,834.3 949.1,853.5 954.5,865.0 959.9,852.0 965.3,879.5 970.7,938.5 976.1,903.0 981.5,915.0 986.9,838.0 992.3,773.0 997.7,833.0 1003.1,900.5 1008.5,884.3 1013.9,846.5 1019.3,813.0 1024.7,840.8 1030.1,821.3 1035.5,909.3 1040.8,883.7 1046.2,864.5 1051.6,839.0 1057.0,820.7 1062.4,891.0 1067.8,878.6" fill="none" stroke="#2a2eec" stroke-width="4.2" stroke-linejoin="round" stroke-linecap="round"/>
<polyline points="1073.2,750.0 1078.6,833.8 1084.0,786.0 1089.4,778.5 1094.8,735.5 1100.2,716.7 1105.6,782.0 1111.0,827.0 1116.4,755.0 1121.8,675.0 1127.2,814.2 1132.6,750.3 1138.0,807.7 1143.4,722.0 1148.8,794.0 1154.1,821.5 1159.5,751.0 1164.9,763.2 1170.3,833.5 1175.7,859.0 1181.1,667.0 1186.5,790.0 1191.9,783.5 1197.3,793.3 1202.7,857.5 1208.1,751.5 1213.5,727.7 1218.9,789.0 1224.3,757.5 1229.7,640.7 1235.1,700.0 1240.5,843.0 1245.9,782.0 1251.3,819.7 1256.6,813.4 1262.0,788.3 1267.4,781.0 1272.8,825.5 1278.2,787.5 1283.6,794.0 1289.0,856.0 1294.4,780.5 1299.8,782.8 1305.2,774.0 1310.6,816.4 1316.0,825.3 1321.4,711.5 1326.8,847.0 1332.2,807.0 1337.6,736.3 1343.0,828.4 1348.4,682.1" fill="none" stroke="#fa7c17" stroke-width="4.2" stroke-linejoin="round" stroke-linecap="round"/>
<line x1="175" y1="862.0" x2="1403" y2="862.0" stroke="#000" stroke-width="4.2"/>
<line x1="1072" y1="606" x2="1072" y2="1017" stroke="#ff0000" stroke-width="8.3"/>
</g>
<rect x="175" y="1084" width="1228" height="410" fill="#eeeeee"/>
<g stroke="#fff" stroke-width="2.1" clip-path="url(#c3)">
<line x1="227" y1="1084" x2="227" y2="1494"/>
<line x1="509" y1="1084" x2="509" y2="1494"/>
<line x1="790" y1="1084" x2="790" y2="1494"/>
<line x1="1072" y1="1084" x2="1072" y2="1494"/>
<line x1="1353" y1="1084" x2="1353" y2="1494"/>
<line x1="175" y1="1133" x2="1403" y2="1133"/>
<line x1="175" y1="1220" x2="1403" y2="1220"/>
<line x1="175" y1="1308" x2="1403" y2="1308"/>
<line x1="175" y1="1395" x2="1403" y2="1395"/>
<line x1="175" y1="1483" x2="1403" y2="1483"/>
</g>
<g clip-path="url(#c3)">
<polygon points="1073.2,1471.2 1078.6,1467.0 1084.0,1459.4 1089.4,1451.2 1094.8,1439.5 1100.2,1427.2 1105.6,1420.9 1111.0,1416.6 1116.4,1407.3 1121.8,1391.9 1127.2,1386.5 1132.6,1376.8 1138.0,1371.1 1143.4,1358.9 1148.8,1353.6 1154.1,1349.8 1159.5,1340.5 1164.9,1332.2 1170.3,1330.5 1175.7,1329.8 1181.1,1314.2 1186.5,1307.6 1191.9,1299.8 1197.3,1293.7 1202.7,1293.1 1208.1,1282.8 1213.5,1272.1 1218.9,1265.1 1224.3,1255.7 1229.7,1237.8 1235.1,1224.8 1240.5,1221.6 1245.9,1215.4 1251.3,1211.4 1256.6,1206.8 1262.0,1201.2 1267.4,1194.3 1272.8,1191.9 1278.2,1185.7 1283.6,1179.7 1289.0,1179.1 1294.4,1171.8 1299.8,1164.7 1305.2,1156.8 1310.6,1152.3 1316.0,1150.0 1321.4,1137.0 1326.8,1135.4 1332.2,1131.0 1337.6,1121.0 1343.0,1117.7 1348.4,1102.5 1348.4,1164.0 1343.0,1177.9 1337.6,1179.8 1332.2,1189.0 1326.8,1194.3 1321.4,1194.7 1316.0,1207.6 1310.6,1209.2 1305.2,1212.5 1299.8,1219.2 1294.4,1224.9 1289.0,1231.0 1283.6,1231.6 1278.2,1236.4 1272.8,1242.4 1267.4,1245.5 1262.0,1252.5 1256.6,1257.7 1251.3,1260.9 1245.9,1263.8 1240.5,1268.7 1235.1,1269.8 1229.7,1282.6 1224.3,1299.4 1218.9,1307.9 1213.5,1313.1 1208.1,1324.5 1202.7,1333.0 1197.3,1333.4 1191.9,1338.9 1186.5,1344.6 1181.1,1350.2 1175.7,1365.5 1170.3,1365.3 1164.9,1366.5 1159.5,1373.2 1154.1,1382.4 1148.8,1385.1 1143.4,1390.3 1138.0,1400.9 1132.6,1405.3 1127.2,1413.8 1121.8,1416.5 1116.4,1430.2 1111.0,1438.9 1105.6,1441.1 1100.2,1447.0 1094.8,1456.8 1089.4,1467.3 1084.0,1473.1 1078.6,1477.4 1073.2,1477.0" fill="#fa7c17" fill-opacity=".25" stroke="#fa7c17" stroke-opacity=".25" stroke-width="2.6" stroke-linejoin="round" />
<polyline points="1073.2,1473.9 1078.6,1471.7 1084.0,1465.5 1089.4,1458.8 1094.8,1448.5 1100.2,1436.8 1105.6,1430.3 1111.0,1427.5 1116.4,1418.8 1121.8,1403.7 1127.2,1399.9 1132.6,1390.8 1138.0,1386.4 1143.4,1375.1 1148.8,1369.6 1154.1,1366.3 1159.5,1357.4 1164.9,1349.4 1170.3,1347.1 1175.7,1346.8 1181.1,1331.1 1186.5,1325.2 1191.9,1318.9 1197.3,1313.3 1202.7,1313.0 1208.1,1304.0 1213.5,1293.2 1218.9,1287.3 1224.3,1278.8 1229.7,1260.9 1235.1,1247.8 1240.5,1246.3 1245.9,1239.8 1251.3,1236.4 1256.6,1232.5 1262.0,1226.5 1267.4,1220.0 1272.8,1217.0 1278.2,1211.0 1283.6,1205.5 1289.0,1205.0 1294.4,1198.4 1299.8,1192.0 1305.2,1184.9 1310.6,1181.2 1316.0,1178.2 1321.4,1166.1 1326.8,1164.9 1332.2,1160.4 1337.6,1150.2 1343.0,1147.5 1348.4,1133.0" fill="none" stroke="#fa7c17" stroke-width="4.2" stroke-linejoin="round" stroke-linecap="round"/>
<line x1="175" y1="1483.0" x2="1403" y2="1483.0" stroke="#000" stroke-width="4.2"/>
<line x1="1072" y1="1084" x2="1072" y2="1494" stroke="#ff0000" stroke-width="8.3"/>
</g>
<rect x="205.4" y="161.7" width="67" height="23.4" fill="#2a2eec" fill-opacity=".25" stroke="#2a2eec" stroke-opacity=".25" stroke-width="2.6"/>
<line x1="205.2" y1="173.0" x2="271.6" y2="173.0" stroke="#2a2eec" stroke-width="4.2" stroke-linecap="round"/>
<rect x="205.4" y="261.3" width="67" height="23.4" fill="#fa7c17" fill-opacity=".25" stroke="#fa7c17" stroke-opacity=".25" stroke-width="2.6"/>
<line x1="205.2" y1="272.0" x2="271.6" y2="272.0" stroke="#fa7c17" stroke-width="4.2" stroke-linecap="round"/>
<rect x="205.4" y="310.8" width="67" height="23.4" fill="#2a2eec" fill-opacity=".25" stroke="#2a2eec" stroke-opacity=".25" stroke-width="2.6"/>
<circle cx="239.3" cy="223.2" r="5.35" fill="#000"/>
<g filter="url(#gs)" stroke="#262626" stroke-width="0.45" stroke-linejoin="round">
<text x="542.14" y="45.5" font-size="34" textLength="111.70" lengthAdjust="spacingAndGlyphs">Causal</text>
<text x="664.34" y="45.5" font-size="34" textLength="113.22" lengthAdjust="spacingAndGlyphs">impact</text>
<text x="790.60" y="45.5" font-size="34" textLength="41.11" lengthAdjust="spacingAndGlyphs">for</text>
<text x="842.40" y="45.5" font-size="34" textLength="38.02" lengthAdjust="spacingAndGlyphs">t3</text>
<text x="236.03" y="110.6" font-size="46.5" textLength="357.72" lengthAdjust="spacingAndGlyphs">Pre-intervention</text>
<text x="609.66" y="110.6" font-size="46.5" textLength="200.35" lengthAdjust="spacingAndGlyphs">Bayesian</text>
<text x="825.20" y="110.6" font-size="46.5" textLength="26.98" lengthAdjust="spacingAndGlyphs" font-style="italic">R</text>
<text x="859.79" y="93.8" font-size="31.5" textLength="17.77" lengthAdjust="spacingAndGlyphs">2</text>
<text x="878.88" y="110.6" font-size="46.5" textLength="16.54" lengthAdjust="spacingAndGlyphs">:</text>
<text x="909.39" y="110.6" font-size="46.5" textLength="95.72" lengthAdjust="spacingAndGlyphs">0.85</text>
<text x="1021.30" y="110.6" font-size="46.5" textLength="85.16" lengthAdjust="spacingAndGlyphs">(std</text>
<text x="1122.92" y="110.6" font-size="46.5" textLength="33.65" lengthAdjust="spacingAndGlyphs">=</text>
<text x="1172.80" y="110.6" font-size="46.5" textLength="173.39" lengthAdjust="spacingAndGlyphs">0.0099)</text>
<text x="630.41" y="589.8" font-size="46.5" textLength="150.95" lengthAdjust="spacingAndGlyphs">Causal</text>
<text x="790.11" y="589.8" font-size="46.5" textLength="156.48" lengthAdjust="spacingAndGlyphs">Impact</text>
<text x="496.11" y="1068.2" font-size="46.5" textLength="254.94" lengthAdjust="spacingAndGlyphs">Cumulative</text>
<text x="763.31" y="1068.2" font-size="46.5" textLength="150.95" lengthAdjust="spacingAndGlyphs">Causal</text>
<text x="924.34" y="1068.2" font-size="46.5" textLength="155.55" lengthAdjust="spacingAndGlyphs">Impact</text>
<text x="298.32" y="183.6" font-size="32" textLength="269.14" lengthAdjust="spacingAndGlyphs">Pre-intervention</text>
<text x="576.76" y="183.6" font-size="32" textLength="108.42" lengthAdjust="spacingAndGlyphs">period</text>
<text x="300.24" y="233.0" font-size="32" textLength="218.17" lengthAdjust="spacingAndGlyphs">Observations</text>
<text x="300.21" y="282.4" font-size="32" textLength="247.31" lengthAdjust="spacingAndGlyphs">Counterfactual</text>
<text x="299.58" y="332.6" font-size="32" textLength="111.83" lengthAdjust="spacingAndGlyphs">Causal</text>
<text x="420.47" y="332.6" font-size="32" textLength="114.64" lengthAdjust="spacingAndGlyphs">impact</text>
<text x="104.34" y="289.4" font-size="43.6" textLength="59.55" lengthAdjust="spacingAndGlyphs">3.0</text>
<text x="104.34" y="438.4" font-size="43.6" textLength="59.55" lengthAdjust="spacingAndGlyphs">2.5</text>
<text x="105.35" y="705.4" font-size="43.6" textLength="57.53" lengthAdjust="spacingAndGlyphs">0.4</text>
<text x="105.33" y="792.4" font-size="43.6" textLength="58.52" lengthAdjust="spacingAndGlyphs">0.2</text>
<text x="105.33" y="878.4" font-size="43.6" textLength="58.52" lengthAdjust="spacingAndGlyphs">0.0</text>
<text x="104.34" y="1236.4" font-size="43.6" textLength="59.55" lengthAdjust="spacingAndGlyphs">7.5</text>
<text x="104.34" y="1324.4" font-size="43.6" textLength="59.55" lengthAdjust="spacingAndGlyphs">5.0</text>
<text x="104.34" y="1411.4" font-size="43.6" textLength="59.55" lengthAdjust="spacingAndGlyphs">2.5</text>
<text x="105.33" y="1499.4" font-size="43.6" textLength="58.52" lengthAdjust="spacingAndGlyphs">0.0</text>
<text x="79.82" y="1149.4" font-size="43.6" textLength="84.33" lengthAdjust="spacingAndGlyphs">10.0</text>
<text x="72.87" y="965.4" font-size="43.6" textLength="91.63" lengthAdjust="spacingAndGlyphs">−0.2</text>
<text transform="translate(84.0,335.9) rotate(-90)" x="-185.61" y="0" font-size="43.5" textLength="109.24" lengthAdjust="spacingAndGlyphs">Sales</text>
<text transform="translate(84.0,335.9) rotate(-90)" x="-60.65" y="0" font-size="43.5" textLength="247.18" lengthAdjust="spacingAndGlyphs">(thousands)</text>
<text transform="translate(52.3,813.4) rotate(-90)" x="-185.61" y="0" font-size="43.5" textLength="109.24" lengthAdjust="spacingAndGlyphs">Sales</text>
<text transform="translate(52.3,813.4) rotate(-90)" x="-60.65" y="0" font-size="43.5" textLength="247.18" lengthAdjust="spacingAndGlyphs">(thousands)</text>
<text transform="translate(58.8,1290.9) rotate(-90)" x="-185.61" y="0" font-size="43.5" textLength="109.24" lengthAdjust="spacingAndGlyphs">Sales</text>
<text transform="translate(58.8,1290.9) rotate(-90)" x="-60.65" y="0" font-size="43.5" textLength="247.18" lengthAdjust="spacingAndGlyphs">(thousands)</text>
<text transform="translate(220.4,1505.6) rotate(90)" x="-2.08" y="0" font-size="41.8" textLength="96.54" lengthAdjust="spacingAndGlyphs">2019</text>
<text transform="translate(502.4,1505.6) rotate(90)" x="-2.05" y="0" font-size="41.8" textLength="95.46" lengthAdjust="spacingAndGlyphs">2020</text>
<text transform="translate(783.4,1505.6) rotate(90)" x="-2.08" y="0" font-size="41.8" textLength="96.54" lengthAdjust="spacingAndGlyphs">2021</text>
<text transform="translate(1065.4,1505.6) rotate(90)" x="-2.08" y="0" font-size="41.8" textLength="96.54" lengthAdjust="spacingAndGlyphs">2022</text>
<text transform="translate(1346.4,1505.6) rotate(90)" x="-2.05" y="0" font-size="41.8" textLength="95.46" lengthAdjust="spacingAndGlyphs">2023</text>
</g>
</svg>
</body></html>
